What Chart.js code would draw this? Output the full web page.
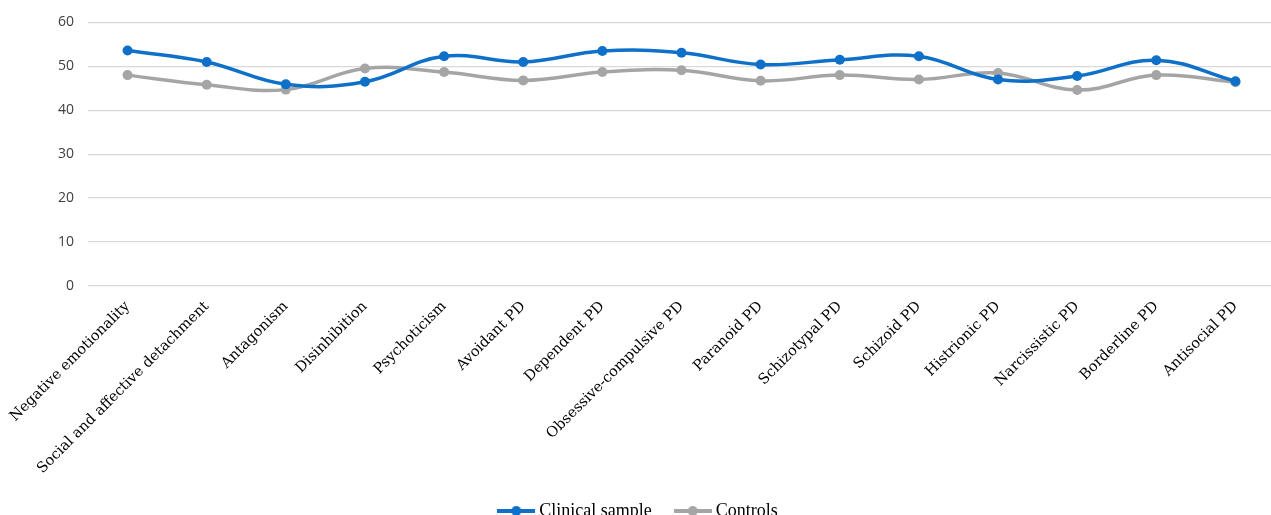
<!DOCTYPE html>
<html>
<head>
<meta charset="utf-8">
<script src="https://cdn.jsdelivr.net/npm/chart.js@4"></script>
<style>
html,body{margin:0;padding:0;background:#fff;overflow:hidden;}
#wrap{position:relative;width:1280px;height:530px;}
</style>
</head>
<body>
<div id="wrap"><canvas id="c"></canvas></div>
<script>
const categories = ["Negative emotionality","Social and affective detachment","Antagonism","Disinhibition","Psychoticism","Avoidant PD","Dependent PD","Obsessive-compulsive PD","Paranoid PD","Schizotypal PD","Schizoid PD","Histrionic PD","Narcissistic PD","Borderline PD","Antisocial PD"];
const clinicalSample = [53.6, 51.0, 45.9, 46.5, 52.3, 51.0, 53.5, 53.1, 50.4, 51.5, 52.3, 47.0, 47.8, 51.4, 46.6];
const controls = [48.0, 45.8, 44.7, 49.5, 48.7, 46.8, 48.7, 49.1, 46.7, 48.0, 47.0, 48.5, 44.6, 48.0, 46.4];
const seriesNames = ["Clinical sample", "Controls"];
const yTicks = [0, 10, 20, 30, 40, 50, 60];

const BLUE = "#0E70C8";
const GREY = "#A5A5A5";

function legendIcon(color){
  const c = document.createElement("canvas");
  c.width = 38; c.height = 12;
  const g = c.getContext("2d");
  g.strokeStyle = color; g.lineWidth = 4; g.lineCap = "butt";
  g.beginPath(); g.moveTo(0,6); g.lineTo(38,6); g.stroke();
  g.fillStyle = color; g.beginPath(); g.arc(19,6,5,0,Math.PI*2); g.fill();
  return c;
}
const icons = [legendIcon(BLUE), legendIcon(GREY)];

new Chart(document.getElementById("c"), {
  type: "line",
  data: {
    labels: categories,
    datasets: [
      {label: seriesNames[0], data: clinicalSample, borderColor: BLUE, backgroundColor: BLUE,
       borderWidth: 3.5, pointRadius: 5, pointHoverRadius: 5, pointBackgroundColor: BLUE, pointBorderWidth: 0,
       tension: 0.4, fill: false},
      {label: seriesNames[1], data: controls, borderColor: GREY, backgroundColor: GREY,
       borderWidth: 3.5, pointRadius: 5, pointHoverRadius: 5, pointBackgroundColor: GREY, pointBorderWidth: 0,
       tension: 0.4, fill: false}
    ]
  },
  options: {
    responsive: true,
    maintainAspectRatio: false,
    animation: false,
    layout: {padding: {top: 13, left: 0, right: 0, bottom: 0}},
    plugins: {
      tooltip: {enabled: false},
      legend: {
        position: "bottom",
        labels: {
          usePointStyle: true,
          pointStyleWidth: 28,
          padding: 27,
          color: "#000",
          font: {family: "'Liberation Serif', serif", size: 18},
          generateLabels(chart){
            const items = Chart.defaults.plugins.legend.labels.generateLabels(chart);
            items.forEach((it,i)=>{ it.pointStyle = icons[i]; });
            return items;
          }
        }
      }
    },
    scales: {
      x: {
        offset: true,
        grid: {display: false},
        border: {display: false},
        ticks: {
          maxRotation: 45, minRotation: 45, autoSkip: false,
          color: "#000",
          font: {family: "'DejaVu Serif', serif", size: 14.5},
          padding: 4
        },
        afterFit(s){
          const lh = (s.chart.legend && s.chart.legend.height) || 58;
          s.height = s.chart.height - 286 - lh;
        }
      },
      y: {
        min: 0, max: 60,
        afterBuildTicks(s){ s.ticks = yTicks.map(v=>({value:v})); },
        grid: {color: "#D9D9D9", lineWidth: 1.3, drawTicks: false},
        border: {display: false},
        ticks: {
          color: "#404040",
          font: {family: "'Open Sans', sans-serif", size: 14},
          padding: 14
        },
        afterFit(s){ s.width = 88; }
      }
    }
  }
});
</script>
</body>
</html>
